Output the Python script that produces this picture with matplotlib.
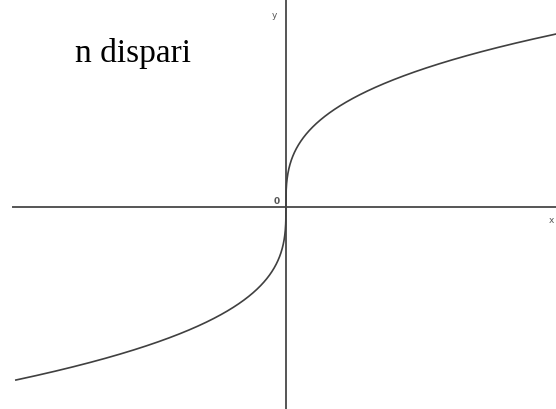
import numpy as np
import matplotlib
matplotlib.use("Agg")
import matplotlib.pyplot as plt

# === Data: graph of y = x^(1/n), n odd ===
n = 3
x_start, x_end = -8.0, 8.0
title_text = "n dispari"
axis_labels = ["x", "y", "0"]

x = np.linspace(x_start, x_end, 4001)
y = np.sign(x) * np.abs(x) ** (1.0 / n)

# === Figure ===
fig = plt.figure(figsize=(5.56, 4.10), dpi=100)
ax = fig.add_axes([0, 0, 1, 1])
ax.set_xlim(-8.47, 8.0)
ax.set_ylim(-2.335, 2.405)
ax.axis("off")

axis_col = "#555555"
ax.plot([-8.09, 8.0], [0, 0], color=axis_col, lw=1.4)
ax.plot([0, 0], [-2.335, 2.405], color=axis_col, lw=1.4)

ax.plot(x, y, color="#404040", lw=1.2)

# labels
ax.text(7.85, -0.14, axis_labels[0], fontsize=6.5, color="#555555", ha="center", va="center")
ax.text(-0.33, 2.23, axis_labels[1], fontsize=6.5, color="#555555", ha="center", va="center")
ax.text(-0.27, 0.08, axis_labels[2], fontsize=6.5, color="#555555", ha="center", va="center",
        fontweight="bold")

ax.text(-6.26, 1.69, title_text, fontsize=24, family="Liberation Serif", color="black",
        ha="left", va="baseline")

fig.savefig("out.png", dpi=100)
